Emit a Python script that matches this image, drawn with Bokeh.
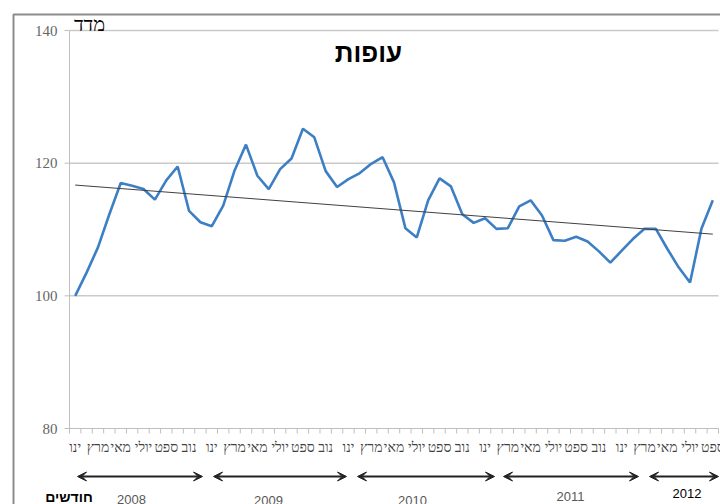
from bokeh.plotting import figure
from bokeh.models import Range1d, Label, Arrow, VeeHead
from bokeh.core.properties import value
from bokeh.embed import file_html
from bokeh.resources import INLINE

# ---- data ----
values = [100, 103.5, 107.3, 112.3, 117.0, 116.6, 116.1, 114.5, 117.4, 119.5,
          112.8, 111.1, 110.5, 113.6, 118.9, 122.8, 118.1, 116.1, 119.1, 120.7,
          125.2, 123.9, 118.8, 116.4, 117.6, 118.5, 119.9, 120.9, 117.1, 110.2,
          108.8, 114.4, 117.7, 116.5, 112.3, 111.0, 111.7, 110.1, 110.2, 113.5,
          114.4, 112.1, 108.4, 108.3, 108.9, 108.2, 106.7, 105.0, 106.8, 108.6,
          110.1, 110.1, 107.1, 104.3, 102.0, 110.1, 114.4]
month_names = ["ינו", "פבר", "מרץ", "אפר", "מאי", "יוני", "יולי", "אוג", "ספט", "אוק", "נוב", "דצמ"]
years = ["2008", "2009", "2010", "2011", "2012"]
trend_start = 116.7
trend_end = 109.3
y_ticks = [80, 100, 120, 140]
grid_ticks = [100, 120, 140]
title_text = "עופות"
y_title = "מדד"
x_title = "חודשים"

n = len(values)
idx = list(range(n))

# ---- layout (pixel geometry of the plotting area) ----
W, H = 720, 504
FL, FR, FT, FB = 69, 718, 30, 428          # frame edges in pixels
DX = (FR - FL) / n                          # pixels per month
DY = (FB - FT) / (y_ticks[-1] - y_ticks[0])  # pixels per index point


def X(px):
    return -0.5 + (px - FL) / DX


def Y(py):
    return y_ticks[0] + (FB - py) / DY


p = figure(width=W, height=H, output_backend="svg", toolbar_location=None,
           x_range=Range1d(X(0), X(W)), y_range=Range1d(Y(H), Y(0)),
           x_axis_location=None, y_axis_location=None,
           min_border=0, min_border_left=0, min_border_right=0,
           min_border_top=0, min_border_bottom=0)
p.outline_line_color = None
p.grid.visible = False
p.background_fill_color = "white"
p.border_fill_color = "white"

x0, x1 = -0.5, n - 0.5
y0 = y_ticks[0]

# outer chart border (left and top)
p.line([X(13), X(13), X(W + 5)], [Y(H + 5), Y(14), Y(14)], line_color="#8c8c8c", line_width=2)

# horizontal gridlines
p.segment(x0=[x0] * len(grid_ticks), x1=[x1] * len(grid_ticks), y0=grid_ticks, y1=grid_ticks,
          line_color="#cacaca", line_width=1.5)

# y axis
p.segment(x0=[x0], x1=[x0], y0=[y_ticks[0]], y1=[y_ticks[-1]], line_color="#bfbfbf", line_width=1)
p.segment(x0=[x0 - 5 / DX] * len(y_ticks), x1=[x0] * len(y_ticks), y0=y_ticks, y1=y_ticks,
          line_color="#bfbfbf", line_width=1)
p.text(x=[x0 - 12 / DX] * len(y_ticks), y=y_ticks, text=[str(t) for t in y_ticks],
       text_font=value("Liberation Serif"), text_font_size="15px", text_color="#666666",
       text_align="right", text_baseline="middle")

# x axis
p.segment(x0=[x0], x1=[x1], y0=[y0], y1=[y0], line_color="#bfbfbf", line_width=1)
bnd = [i + 0.5 for i in range(-1, n)]
p.segment(x0=bnd, x1=bnd, y0=[y0] * len(bnd), y1=[y0 - 5 / DY] * len(bnd),
          line_color="#bfbfbf", line_width=1)
tick_idx = [i for i in idx if i % 2 == 0]
tick_text = [month_names[i % 12] for i in tick_idx]
p.text(x=tick_idx, y=[y0 - 19 / DY] * len(tick_idx), text=tick_text,
       text_font=value("Liberation Serif"), text_font_size="14px", text_color="#404040",
       text_align="center", text_baseline="middle")

# series and trend
p.line(idx, values, line_color="#3d7fc4", line_width=2.6)
p.line([0, n - 1], [trend_start, trend_end], line_color="#404040", line_width=1)

# texts
p.add_layout(Label(x=X(368), y=Y(52), text=title_text, text_font="Liberation Sans",
                   text_font_style="bold", text_font_size="26px", text_color="black",
                   text_align="center", text_baseline="middle"))
p.add_layout(Label(x=X(89), y=Y(23), text=y_title, text_font="Liberation Serif",
                   text_font_size="20px", text_color="black",
                   text_align="center", text_baseline="middle"))
p.add_layout(Label(x=X(68.5), y=Y(496), text=x_title, text_font="Liberation Sans",
                   text_font_style="bold", text_font_size="14px", text_color="black",
                   text_align="center", text_baseline="middle"))

year_px = [131, 268, 412, 570, 686.5]
year_py = [499, 500, 500, 496, 493]
year_col = ["#595959", "#595959", "#595959", "#595959", "black"]
for t, xx, yy, c in zip(years, year_px, year_py, year_col):
    p.add_layout(Label(x=X(xx), y=Y(yy), text=t, text_font="Liberation Sans",
                       text_font_size="13px", text_color=c,
                       text_align="center", text_baseline="middle"))

arrow_px = [(77, 202), (213, 346), (357, 494), (503, 638), (649, 718)]
for a, b in arrow_px:
    p.add_layout(Arrow(x_start=X(a), y_start=Y(476), x_end=X(b), y_end=Y(476),
                       line_width=2, line_color="#222222",
                       start=VeeHead(size=9, fill_color="#222222", line_color="#222222", line_width=1),
                       end=VeeHead(size=9, fill_color="#222222", line_color="#222222", line_width=1)))

open("out.html", "w").write(file_html(p, INLINE))
